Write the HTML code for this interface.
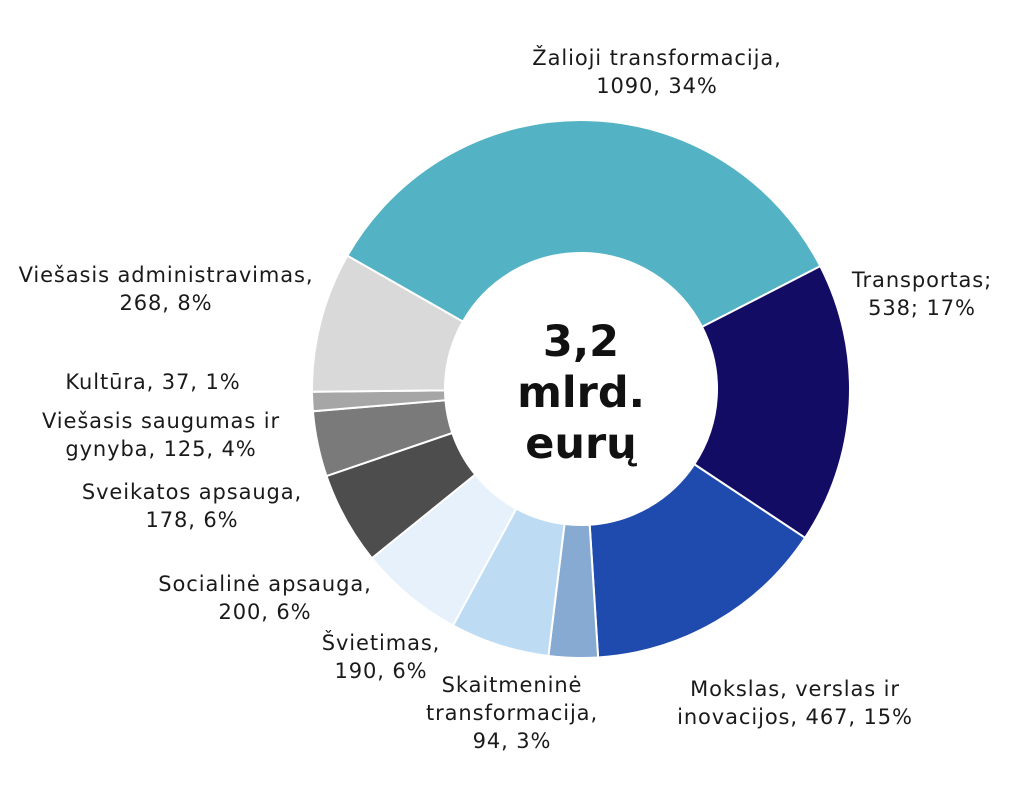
<!DOCTYPE html>
<html><head><meta charset="utf-8"><style>
html,body{margin:0;padding:0;background:#fff;}
svg{display:block;font-family:"DejaVu Sans","Liberation Sans",sans-serif;}
.l{font-size:21px;letter-spacing:0.9px;fill:#1a1a1a;}
.c{font-size:43px;font-weight:bold;fill:#111;}
</style></head><body>
<svg id="s" width="1024" height="797" viewBox="0 0 1024 797">
<g id="slices"></g>
<text class="c" x="581" y="356" text-anchor="middle">3,2</text>
<text class="c" x="581" y="407" text-anchor="middle">mlrd.</text>
<text class="c" x="581" y="458" text-anchor="middle">eurų</text>
<g class="l">
<text x="657" y="65" text-anchor="middle">Žalioji transformacija,</text>
<text x="657" y="93" text-anchor="middle">1090, 34%</text>
<text x="922" y="287" text-anchor="middle">Transportas;</text>
<text x="922" y="315" text-anchor="middle">538; 17%</text>
<text x="795" y="696" text-anchor="middle">Mokslas, verslas ir</text>
<text x="795" y="724" text-anchor="middle">inovacijos, 467, 15%</text>
<text x="512" y="692" text-anchor="middle">Skaitmeninė</text>
<text x="512" y="720" text-anchor="middle">transformacija,</text>
<text x="512" y="748" text-anchor="middle">94, 3%</text>
<text x="381" y="650" text-anchor="middle">Švietimas,</text>
<text x="381" y="678" text-anchor="middle">190, 6%</text>
<text x="265" y="591" text-anchor="middle">Socialinė apsauga,</text>
<text x="265" y="619" text-anchor="middle">200, 6%</text>
<text x="192" y="499" text-anchor="middle">Sveikatos apsauga,</text>
<text x="192" y="527" text-anchor="middle">178, 6%</text>
<text x="161" y="428" text-anchor="middle">Viešasis saugumas ir</text>
<text x="161" y="456" text-anchor="middle">gynyba, 125, 4%</text>
<text x="153" y="389" text-anchor="middle">Kultūra, 37, 1%</text>
<text x="166" y="282" text-anchor="middle">Viešasis administravimas,</text>
<text x="166" y="310" text-anchor="middle">268, 8%</text>
</g>
</svg>
<script>
var d=[[1090,"#53b3c4"],[538,"#130c64"],[467,"#1f4aae"],[94,"#87aad3"],[190,"#bddcf4"],[200,"#e6f1fb"],[178,"#4d4d4d"],[125,"#7a7a7a"],[37,"#a6a6a6"],[268,"#d9d9d9"]];
var tot=0;d.forEach(function(x){tot+=x[0];});
var cx=581,cy=389,R=269,r=136,a=-60.3*Math.PI/180,h="";
function p(rad,ang){return [(cx+rad*Math.sin(ang)).toFixed(2),(cy-rad*Math.cos(ang)).toFixed(2)];}
d.forEach(function(x){var b=a+x[0]/tot*2*Math.PI,l=(b-a)>Math.PI?1:0;
var p1=p(R,a),p2=p(R,b),p3=p(r,b),p4=p(r,a);
h+='<path d="M'+p1+' A'+R+' '+R+' 0 '+l+' 1 '+p2+' L'+p3+' A'+r+' '+r+' 0 '+l+' 0 '+p4+' Z" fill="'+x[1]+'" stroke="#fff" stroke-width="2"/>';a=b;});
document.getElementById("slices").innerHTML=h;
</script>
</body></html>
